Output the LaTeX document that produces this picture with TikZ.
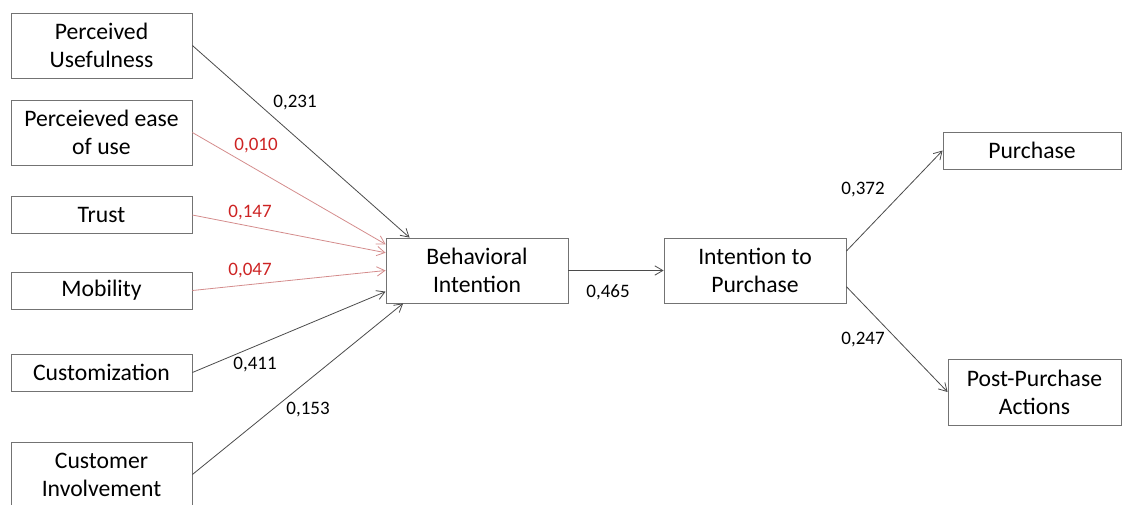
\documentclass[tikz,border=0pt]{standalone}
\usepackage{fontspec}
\setmainfont{Carlito}
\usepackage{tikz}
\usetikzlibrary{arrows.meta}
\usetikzlibrary{calc}

\definecolor{boxgray}{RGB}{115,115,115}
\definecolor{linegray}{RGB}{75,75,75}
\definecolor{linered}{RGB}{212,140,140}
\definecolor{textred}{RGB}{205,35,35}

\begin{document}
\begin{tikzpicture}[x=0.75pt,y=-0.75pt]
\tikzstyle{factor}=[draw=boxgray,line width=0.6pt,align=center,inner sep=0pt,minimum width=135.75pt,font=\fontsize{17.75}{21}\selectfont]
\tikzstyle{tall}=[factor,minimum height=48.75pt]
\tikzstyle{flat}=[factor,minimum height=27.75pt]
\tikzstyle{link}=[draw=linegray,line width=0.6pt,-{Straight Barb[length=6pt,width=7pt]}]
\tikzstyle{weak}=[link,draw=linered]
\tikzstyle{coef}=[inner sep=0pt,font=\fontsize{14.25}{17}\selectfont]
\clip (0,0) rectangle (1122,504);
\node [tall] (useful) at (101.5,45.5) {Perceived\\Usefulness};
\node [tall] (ease) at (101.5,132.5) {Perceieved ease\\of use};
\node [flat] (trust) at (101.5,215) {Trust};
\node [flat] (mobil) at (101.5,290.5) {Mobility};
\node [flat] (custom) at (101.5,372.5) {Customization};
\node [tall] (involve) at (101.5,474.5) {Customer\\Involvement};
\node [tall, minimum width=136.5pt] (behav) at (477,270.5) {Behavioral\\Intention};
\node [tall, minimum width=136.5pt] (intent) at (755,270.5) {Intention to\\Purchase};
\node [flat, minimum width=133.5pt] (purch) at (1032,150.5) {Purchase};
\node [tall, minimum width=129.75pt, minimum height=49.5pt] (post) at (1034.5,392) {Post-Purchase\\Actions};
\draw [link] (useful.east) -- (behav.154.8);
\draw [weak] (ease.east) -- (behav.164.3);
\draw [weak] (trust.east) -- (behav.169.1);
\draw [weak] (mobil.east) -- (behav.180);
\draw [link] (custom.east) -- (behav.193.3);
\draw [link] (involve.east) -- (behav.204.9);
\draw [link] (behav.east) -- (intent.west);
\draw [link] (intent.12.1) -- (purch.west);
\draw [link] (intent.-10.9) -- (post.west);
\node [coef] (c1) at (295,103) {0,231};
\node [coef, textred] (c2) at (256,146) {0,010};
\node [coef, textred] (c3) at (250,213) {0,147};
\node [coef, textred] (c4) at (250,271) {0,047};
\node [coef] (c5) at (255,365) {0,411};
\node [coef] (c6) at (308,410) {0,153};
\node [coef] (c7) at (608,292) {0,465};
\node [coef] (c8) at (863,190) {0,372};
\node [coef] (c9) at (863,340) {0,247};
\end{tikzpicture}
\end{document}
